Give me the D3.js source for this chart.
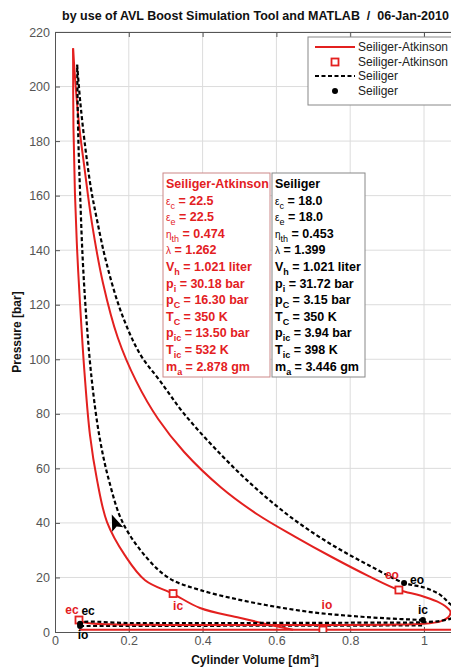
<!DOCTYPE html>
<html><head><meta charset="utf-8">
<script src="https://cdn.jsdelivr.net/npm/d3@7"></script>
<style>
body{margin:0;background:#fff;}
text{font-family:Arial,"Liberation Sans",Helvetica,sans-serif;}
</style></head>
<body><svg id="c" width="451" height="668"></svg>
<script>
// ---------- data ----------
const xTicks = [0, 0.2, 0.4, 0.6, 0.8, 1];
const yTicks = [0, 20, 40, 60, 80, 100, 120, 140, 160, 180, 200, 220];
const titleText = "by use of AVL Boost Simulation Tool and MATLAB  /  06-Jan-2010";
const xLabel = "Cylinder Volume [dm";
const yLabel = "Pressure [bar]";
const legendLabels = ["Seiliger-Atkinson", "Seiliger-Atkinson", "Seiliger", "Seiliger"];

// Seiliger-Atkinson (red) : [V dm3, p bar]
const saExpansion = [[0.049,214],[0.056,200],[0.066,185],[0.08,170],[0.1,150],[0.13,128],[0.17,108],[0.22,92],[0.28,78],[0.35,66],[0.45,53],[0.55,43],[0.65,35],[0.75,27.5],[0.85,20.5],[0.932,15.4],[0.99,13.4],[1.035,11.2],[1.062,9],[1.072,7.3],[1.065,5.3],[1.045,3.9],[1.0,3.0],[0.9,2.7],[0.7,2.6],[0.5,2.6],[0.3,2.6],[0.15,2.8],[0.08,3.5],[0.065,4.4]];
const saCompression = [[0.645,0.8],[0.583,2.6],[0.5,5.2],[0.393,8.8],[0.32,14],[0.244,19],[0.19,28],[0.141,40.3],[0.114,55.7],[0.095,72],[0.08,95],[0.068,120],[0.06,140],[0.054,161],[0.05,185],[0.049,214]];
const saIntake = [[0.065,0.8],[1.12,0.8]];
// Seiliger (black dashed)
const sExpansion = [[0.06,208],[0.068,195],[0.08,180],[0.097,163],[0.114,151],[0.14,135],[0.18,117],[0.23,102],[0.285,92],[0.35,80],[0.45,65],[0.55,52],[0.65,41],[0.75,32],[0.85,24.5],[0.946,18],[1.0,16.3],[1.04,14],[1.065,11],[1.085,8],[1.08,5.5],[1.05,4.2],[1.0,3.6],[0.8,3.4],[0.5,3.3],[0.2,3.3],[0.068,3.3],[0.068,2.2]];
const sCompression = [[0.997,4.4],[0.9,5.0],[0.8,5.9],[0.7,7.2],[0.6,9.2],[0.5,11.8],[0.393,15.4],[0.312,19.5],[0.25,27],[0.184,40],[0.146,55.7],[0.12,72],[0.1,92],[0.085,115],[0.075,137],[0.068,161],[0.063,182],[0.06,208]];
const sIntake = [[0.068,2.2],[1.0,2.4]];

// valve event markers
const saEvents = ["eo","ic","io","ec"];
const saEventV = [0.932, 0.32, 0.726, 0.065];
const saEventP = [15.4, 14.1, 0.7, 4.4];
const sEvents = ["eo","ic","ec","io"];
const sEventV = [0.946, 0.997, 0.068, 0.068];
const sEventP = [18, 4.4, 3.0, 2.2];
const arrowPoint = [0.163, 40];

// info boxes
const saInfo = [["Seiliger-Atkinson"],["ε","c"," = 22.5"],["ε","e"," = 22.5"],["η","th"," = 0.474"],["λ",""," = 1.262"],["V","h"," = 1.021 liter"],["p","i"," = 30.18 bar"],["p","C"," = 16.30 bar"],["T","C"," = 350 K"],["p","ic"," = 13.50 bar"],["T","ic"," = 532 K"],["m","a"," = 2.878 gm"]];
const sInfo = [["Seiliger"],["ε","c"," = 18.0"],["ε","e"," = 18.0"],["η","th"," = 0.453"],["λ",""," = 1.399"],["V","h"," = 1.021 liter"],["p","i"," = 31.72 bar"],["p","C"," = 3.15 bar"],["T","C"," = 350 K"],["p","ic"," = 3.94 bar"],["T","ic"," = 398 K"],["m","a"," = 3.446 gm"]];

// ---------- drawing ----------
const RED = "#e3201f";
const svg = d3.select("#c");
svg.append("rect").attr("width",451).attr("height",668).attr("fill","#fff");

const L = 55, T = 32, B = 632;
const x = d3.scaleLinear().domain([0, 1.1]).range([L, L + 369*1.1]);
const y = d3.scaleLinear().domain([0, 220]).range([B, T]);
const R = x(1.1);

svg.append("defs").append("clipPath").attr("id","clip")
  .append("rect").attr("x",L).attr("y",T).attr("width",R-L).attr("height",B-T);

// grid
const grid = svg.append("g").attr("stroke","#dcdcdc").attr("stroke-width",1);
grid.selectAll(".gx").data(xTicks.slice(1)).join("line")
  .attr("x1",d=>x(d)).attr("x2",d=>x(d)).attr("y1",T).attr("y2",B);
grid.selectAll(".gy").data(yTicks.slice(1)).join("line")
  .attr("x1",L).attr("x2",R).attr("y1",d=>y(d)).attr("y2",d=>y(d));

// axes
const ax = svg.append("g").attr("transform",`translate(0,${B})`)
  .call(d3.axisBottom(x).tickValues(xTicks).tickFormat(d3.format("~g")).tickSizeInner(-5).tickSizeOuter(0).tickPadding(4));
const ay = svg.append("g").attr("transform",`translate(${L},0)`)
  .call(d3.axisLeft(y).tickValues(yTicks).tickSizeInner(-5).tickSizeOuter(0).tickPadding(5));
const axTop = svg.append("g").attr("transform",`translate(0,${T})`)
  .call(d3.axisTop(x).tickValues(xTicks).tickFormat("").tickSizeInner(-5).tickSizeOuter(0));
[ax, ay, axTop].forEach(g => {
  g.select(".domain").attr("stroke","#555");
  g.selectAll(".tick line").attr("stroke","#555");
  g.selectAll(".tick text").attr("fill","#555").attr("font-size",12.5).attr("font-family","Arial, Liberation Sans, sans-serif");
});

// curves
const line = d3.line().x(d=>x(d[0])).y(d=>y(d[1])).curve(d3.curveCatmullRom.alpha(0.5));
const plot = svg.append("g").attr("clip-path","url(#clip)");
const dashed = {stroke:"#000","stroke-width":2.2,"stroke-dasharray":"4,2.5",fill:"none"};
const solid = {stroke:RED,"stroke-width":2,fill:"none"};
function draw(data, st){ const p = plot.append("path").datum(data).attr("d", line); for (const k in st) p.attr(k, st[k]); }
draw(saIntake, solid);
draw(sIntake, dashed);
draw(saExpansion, solid);
draw(saCompression, solid);
draw(sExpansion, dashed);
draw(sCompression, dashed);

// arrow
const ap = [x(arrowPoint[0]), y(arrowPoint[1])];
plot.append("path").attr("d","M0,-9 L6,7 L0,4 L-6,7 Z").attr("fill","#000")
  .attr("transform",`translate(${ap[0]},${ap[1]}) rotate(-22)`);

// markers
saEvents.forEach((e,i)=>{
  plot.append("rect").attr("x",x(saEventV[i])-3.5).attr("y",y(saEventP[i])-3.5).attr("width",7).attr("height",7)
    .attr("fill","#fff").attr("stroke",RED).attr("stroke-width",1.8);
});
sEvents.forEach((e,i)=>{
  plot.append("circle").attr("cx",x(sEventV[i])).attr("cy",y(sEventP[i])).attr("r",3).attr("fill","#000");
});
// event labels (offsets in px)
const saOff = {eo:[-7,-11], ic:[5,16], io:[4,-21], ec:[-7,-6]};
const sOff = {eo:[13,1], ic:[0,-6], ec:[8,-9], io:[3,13]};
saEvents.forEach((e,i)=>{
  svg.append("text").attr("x",x(saEventV[i])+saOff[e][0]).attr("y",y(saEventP[i])+saOff[e][1])
    .attr("text-anchor","middle").attr("font-size",12).attr("font-weight","bold").attr("fill",RED).text(e);
});
sEvents.forEach((e,i)=>{
  svg.append("text").attr("x",x(sEventV[i])+sOff[e][0]).attr("y",y(sEventP[i])+sOff[e][1])
    .attr("text-anchor","middle").attr("font-size",12).attr("font-weight","bold").attr("fill","#000").text(e);
});

// info boxes
function infoBox(x0, w, rows, color, border){
  const top = 173, h = 204, dy = 16.6;
  svg.append("rect").attr("x",x0).attr("y",top).attr("width",w).attr("height",h)
    .attr("fill","#fff").attr("stroke",border).attr("stroke-width",1);
  rows.forEach((r,i)=>{
    const t = svg.append("text").attr("x",x0+3).attr("y",top+15+i*dy)
      .attr("font-size",12.5).attr("font-weight","bold").attr("fill",color);
    if (r.length===1){ t.text(r[0]); return; }
    const greek = /[εηλ]/.test(r[0]);
    t.append("tspan").text(r[0]).attr("font-size", greek?10:12.5).attr("font-weight", greek?"normal":"bold");
    if (r[1]) t.append("tspan").text(r[1]).attr("font-size",9).attr("dy",4).attr("font-weight", greek?"normal":"bold");
    t.append("tspan").text(r[2]).attr("dy", r[1]?-4:0);
  });
}
infoBox(163, 107, saInfo, RED, "#c88");
infoBox(272, 93, sInfo, "#000", "#888");

// legend
const lg = svg.append("g");
lg.append("rect").attr("x",308).attr("y",37).attr("width",160).attr("height",68).attr("fill","#fff").attr("stroke","#888");
const ly = [47, 62, 76, 91];
lg.append("line").attr("x1",315).attr("x2",355).attr("y1",ly[0]).attr("y2",ly[0]).attr("stroke",RED).attr("stroke-width",2);
lg.append("rect").attr("x",331.5).attr("y",ly[1]-3.5).attr("width",7).attr("height",7).attr("fill","#fff").attr("stroke",RED).attr("stroke-width",1.8);
lg.append("line").attr("x1",315).attr("x2",355).attr("y1",ly[2]).attr("y2",ly[2]).attr("stroke","#000").attr("stroke-width",2.2).attr("stroke-dasharray","4,2.5");
lg.append("circle").attr("cx",335).attr("cy",ly[3]).attr("r",3).attr("fill","#000");
legendLabels.forEach((s,i)=>{
  lg.append("text").attr("x",358).attr("y",ly[i]+4).attr("font-size",12).attr("fill","#222").text(s);
});

// title & axis labels
svg.append("text").attr("x",62).attr("y",20).attr("font-size",12.5).attr("font-weight","bold").attr("fill","#111")
  .attr("xml:space","preserve").style("white-space","pre").text(titleText);
const xl = svg.append("text").attr("x",255).attr("y",664).attr("text-anchor","middle").attr("font-size",12).attr("font-weight","bold").attr("fill","#111");
xl.append("tspan").text(xLabel);
xl.append("tspan").text("3").attr("font-size",8).attr("dy",-5);
xl.append("tspan").text("]").attr("dy",5);
svg.append("text").attr("transform","translate(21,332) rotate(-90)").attr("text-anchor","middle")
  .attr("font-size",12).attr("font-weight","bold").attr("fill","#111").text(yLabel);
</script></body></html>
